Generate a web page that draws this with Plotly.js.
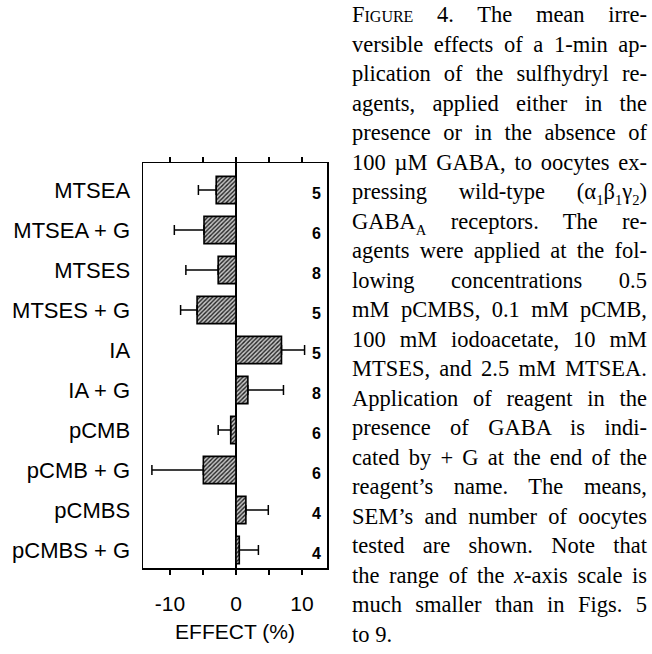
<!DOCTYPE html>
<html><head><meta charset="utf-8">
<script src="https://cdn.plot.ly/plotly-3.0.1.min.js"></script>
<style>
html,body{margin:0;padding:0;background:#fff;}
#wrap{position:relative;width:652px;height:654px;overflow:hidden;background:#fff;}
#chart{position:absolute;left:0;top:0;width:652px;height:654px;}
#caption{position:absolute;left:352px;top:0px;width:295px;font-family:"Liberation Serif",serif;font-size:22.5px;line-height:29.5px;color:#000;}
#caption div{text-align:justify;text-align-last:justify;}
#caption div.last{text-align-last:left;}
.sc{font-variant:small-caps;}
sub{font-size:65%;line-height:0;}
</style></head>
<body>
<div id="wrap"><div id="chart"></div><div id="caption"></div></div>
<script>
var categories = ['MTSEA','MTSEA + G','MTSES','MTSES + G','IA','IA + G','pCMB','pCMB + G','pCMBS','pCMBS + G'];
var effect = [-3.0,-4.85,-2.7,-5.9,6.9,1.8,-0.8,-4.95,1.5,0.5];
var sem = [2.7,4.5,4.9,2.5,3.5,5.4,1.9,7.8,3.4,2.9];
var nOocytes = [5,6,8,5,5,8,6,6,4,4];
var xTickVals = [-10,-5,0,5,10];
var xTickText = ['-10','','0','','10'];
var xTitle = 'EFFECT (%)';
var captionLines = [
 '<span class="sc">Figure</span> 4. The mean irre-',
 'versible effects of a 1-min ap-',
 'plication of the sulfhydryl re-',
 'agents, applied either in the',
 'presence or in the absence of',
 '100 µM GABA, to oocytes ex-',
 'pressing wild-type (α<sub>1</sub>β<sub>1</sub>γ<sub>2</sub>)',
 'GABA<sub>A</sub> receptors. The re-',
 'agents were applied at the fol-',
 'lowing concentrations 0.5',
 'mM pCMBS, 0.1 mM pCMB,',
 '100 mM iodoacetate, 10 mM',
 'MTSES, and 2.5 mM MTSEA.',
 'Application of reagent in the',
 'presence of GABA is indi-',
 'cated by + G at the end of the',
 'reagent’s name. The means,',
 'SEM’s and number of oocytes',
 'tested are shown. Note that',
 'the range of the <i>x</i>-axis scale is',
 'much smaller than in Figs. 5',
 'to 9.'
];

var errPlus = effect.map(function(v,i){return v>=0?sem[i]:0;});
var errMinus = effect.map(function(v,i){return v<0?sem[i]:0;});

var trace = {
  type:'bar', orientation:'h', x:effect, y:categories, width:0.68,
  marker:{color:'#bbbbbb', line:{color:'#000',width:1.6},
    pattern:{shape:'/', fgcolor:'#222', bgcolor:'#c6c6c6', size:3, solidity:0.45}},
  error_x:{type:'data', symmetric:false, array:errPlus, arrayminus:errMinus,
    color:'#000', thickness:1.5, width:5},
  hoverinfo:'none'
};

var annotations = categories.map(function(c,i){
  return {xref:'paper', yref:'y', x:0.945, y:c, text:String(nOocytes[i]), showarrow:false,
    xanchor:'center', yanchor:'middle', yshift:-3,
    font:{family:'Liberation Sans, Arial, sans-serif', size:16, color:'#000', weight:'bold'}};
});

var layout = {
  width:652, height:654, margin:{l:143, r:325, t:163, b:86},
  paper_bgcolor:'rgba(0,0,0,0)', plot_bgcolor:'#fff', showlegend:false,
  font:{family:'Liberation Sans, Arial, sans-serif', size:22, color:'#000'},
  xaxis:{range:[-14.1,13.8], tickmode:'array', tickvals:xTickVals, ticktext:xTickText,
    ticks:'outside', ticklen:5, tickwidth:1.5, tickcolor:'#000',
    showline:true, linecolor:'#000', linewidth:1.5, mirror:'ticks',
    showgrid:false, zeroline:true, zerolinecolor:'#000', zerolinewidth:1.5,
    ticklabelstandoff:11, tickfont:{size:21},
    title:{text:xTitle, standoff:10, font:{size:21, color:'#000'}}},
  yaxis:{type:'category', categoryorder:'array', categoryarray:categories,
    range:[9.45,-0.675], showline:true, linecolor:'#000', linewidth:1.5, mirror:true,
    ticks:'', showgrid:false, zeroline:false, ticklabelstandoff:7},
  annotations:annotations
};

Plotly.newPlot('chart',[trace],layout,{staticPlot:true, displayModeBar:false});

var cap = document.getElementById('caption');
captionLines.forEach(function(t,i){
  var d = document.createElement('div');
  d.innerHTML = t;
  if(i===captionLines.length-1) d.className='last';
  cap.appendChild(d);
});
</script>
</body></html>
